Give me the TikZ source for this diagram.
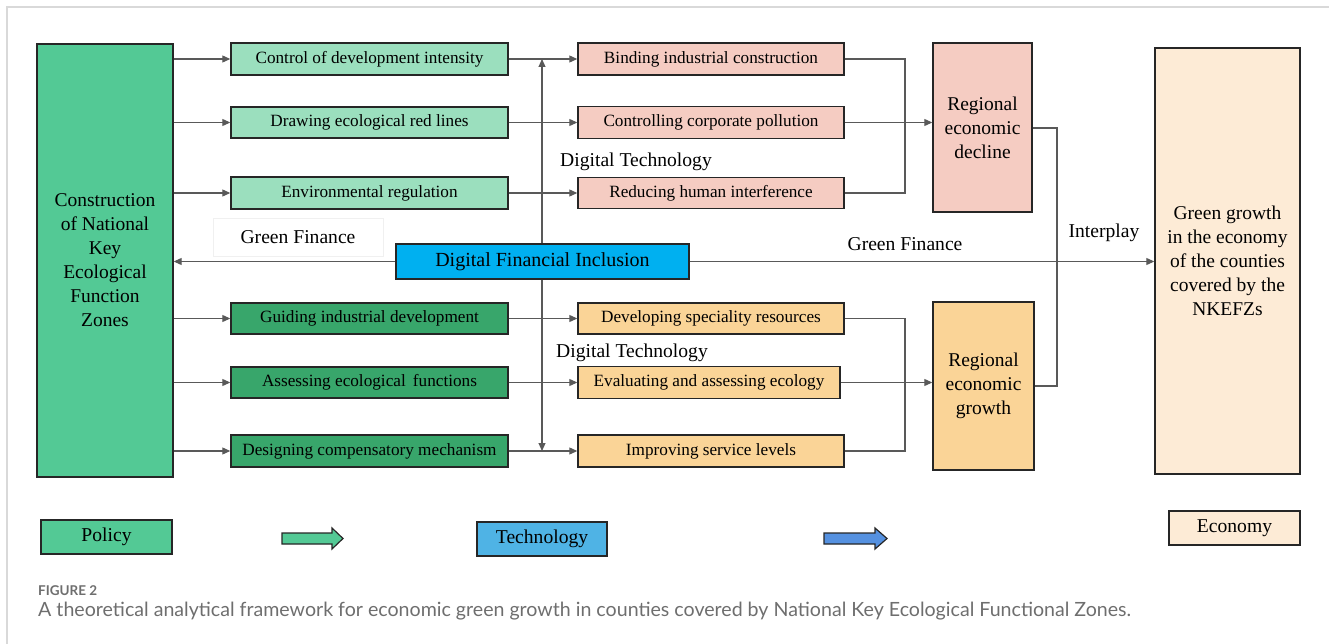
\documentclass[tikz,border=0pt]{standalone}
\usepackage{fontspec}
\setmainfont{Liberation Serif}
\newfontfamily\capfont{Lato}
\usetikzlibrary{arrows.meta}

\definecolor{zonegreen}{HTML}{53C995}
\definecolor{lightgreen}{HTML}{9BDFBE}
\definecolor{darkgreen}{HTML}{38A66B}
\definecolor{pinkfill}{HTML}{F5CCC2}
\definecolor{orangefill}{HTML}{FAD497}
\definecolor{inclusionblue}{HTML}{00B0F0}
\definecolor{techblue}{HTML}{4FB3E5}
\definecolor{arrowblue}{HTML}{5591E0}
\definecolor{creamfill}{HTML}{FDEBD6}
\definecolor{linegrey}{HTML}{595959}
\definecolor{edgegrey}{HTML}{262626}
\definecolor{framegrey}{HTML}{D9D9D9}
\definecolor{captiongrey}{HTML}{6E6E6E}

\tikzset{
  box/.style={draw=edgegrey, line width=1.4pt, inner sep=0pt, align=center,
    font=\fontsize{17.2}{20}\selectfont},
  bigbox/.style={box, font=\fontsize{19.5}{24}\selectfont},
  conn/.style={draw=linegrey, line width=1.1pt},
  arr/.style={conn, -{Triangle[length=8pt,width=7pt]}},
  dblarr/.style={conn, {Triangle[length=8pt,width=7pt]}-{Triangle[length=8pt,width=7pt]}},
  lbl/.style={font=\fontsize{19.6}{22}\selectfont, inner sep=0pt},
  lblbox/.style={draw=black!6, line width=0.6pt, fill=white, inner sep=0pt},
  legarrow/.style={draw=edgegrey, line width=1.2pt, line join=miter},
  legbox/.style={box, font=\fontsize{19.6}{22}\selectfont},
}

\begin{document}
\begin{tikzpicture}[x=1pt, y=-1pt]
\useasboundingbox (0,0) rectangle (1329,644);

% frame of the figure panel
\draw[framegrey, line width=1.5pt] (7,644) -- (7,7) -- (1329,7);

% policy side
\node[bigbox, fill=zonegreen, minimum width=136, minimum height=433] (zone) at (105,260.5)
  {Construction\\of National\\Key\\Ecological\\Function\\Zones};

\node[box, fill=lightgreen, minimum width=277, minimum height=32] (p1) at (369.5,59) {Control of development intensity};
\node[box, fill=lightgreen, minimum width=277, minimum height=31] (p2) at (369.5,122.5) {Drawing ecological red lines};
\node[box, fill=lightgreen, minimum width=277, minimum height=32] (p3) at (369.5,193) {Environmental regulation};
\node[box, fill=darkgreen, minimum width=277, minimum height=31] (p4) at (369.5,318.5) {Guiding industrial development};
\node[box, fill=darkgreen, minimum width=277, minimum height=31] (p5) at (369.5,382.5) {Assessing ecological\, functions};
\node[box, fill=darkgreen, minimum width=277, minimum height=32] (p6) at (369.5,451) {Designing compensatory mechanism};

% mechanism boxes
\node[box, fill=pinkfill, minimum width=266, minimum height=32] (m1) at (711,59) {Binding industrial construction};
\node[box, fill=pinkfill, minimum width=266, minimum height=32] (m2) at (711,122.5) {Controlling corporate pollution};
\node[box, fill=pinkfill, minimum width=266, minimum height=31] (m3) at (711,193) {Reducing human interference};
\node[box, fill=orangefill, minimum width=266, minimum height=31] (m4) at (711,318.5) {Developing speciality resources};
\node[box, fill=orangefill, minimum width=262, minimum height=32] (m5) at (709,382.5) {Evaluating and assessing ecology};
\node[box, fill=orangefill, minimum width=266, minimum height=32] (m6) at (711,451) {Improving service levels};

% regional outcomes
\node[bigbox, fill=pinkfill, minimum width=99, minimum height=169] (dec) at (982.5,127.5) {Regional\\economic\\decline};
\node[bigbox, fill=orangefill, minimum width=101, minimum height=168] (gro) at (983.5,386) {Regional\\economic\\growth};
\node[bigbox, fill=creamfill, minimum width=145, minimum height=426] (eco) at (1227.5,261)
  {Green growth\\in the economy\\of the counties\\covered by the\\NKEFZs};

% policy -> policy instruments
\foreach \i in {1,...,6} { \draw[arr] (zone.east |- p\i) -- (p\i.west); }
% instruments -> mechanisms
\foreach \i in {1,...,6} { \draw[arr] (p\i.east) -- (m\i.west |- p\i); }

% digital technology acts on both groups
\coordinate (vtop) at (542,59);
\coordinate (vbot) at (542,451);
\draw[dblarr] (vbot) -- (vtop);

% mechanisms -> regional outcomes
\coordinate (jt) at (905,59);
\coordinate (jb) at (905,451);
\draw[conn] (m1.east) -- (jt) -- (jt |- m3) -- (m3.east);
\draw[arr] (m2.east) -- (dec.west |- m2);
\draw[conn] (m4.east) -- (m4.east -| jb) -- (jb) -- (m6.east);
\draw[arr] (m5.east) -- (gro.west |- m5);

% interplay of the two regional outcomes
\coordinate (ip) at (1057,128);
\draw[conn] (dec.east |- ip) -- (ip) -- (ip |- gro) -- (gro.east);

% digital financial inclusion, both directions
\node[box, fill=inclusionblue, minimum width=293, minimum height=35,
  font=\fontsize{20}{22}\selectfont] (dfi) at (542.5,261.5) {Digital Financial Inclusion};
\draw[arr] (dfi.west) -- (zone.east |- dfi);
\draw[arr] (dfi.east) -- (eco.west |- dfi);

% labels
\node[lblbox, minimum width=170, minimum height=38] (gfl) at (298,237) {};
\node[lbl] at (gfl) {Green Finance};
\node[lblbox, minimum width=185, minimum height=36, draw=none, fill=none] (gfr) at (905,244) {};
\node[lbl] at (gfr) {Green Finance};
\node[lbl] (dt1) at (636,162) {Digital Technology};
\node[lbl] (dt2) at (632,353) {Digital Technology};
\node[lbl] (inter) at (1104,233) {Interplay};

% legend
\node[legbox, fill=zonegreen, minimum width=131, minimum height=34] (legpol) at (106.5,537) {Policy};
\draw[legarrow, fill=zonegreen] (282,533) -- (332,533) -- (332,528) -- (343,538.5)
  -- (332,549) -- (332,544) -- (282,544) -- cycle;
\node[legbox, fill=techblue, minimum width=130, minimum height=34] (legtech) at (542,539) {Technology};
\draw[legarrow, fill=arrowblue] (824,533) -- (875,533) -- (875,528) -- (887,538.5)
  -- (875,549) -- (875,544) -- (824,544) -- cycle;
\node[legbox, fill=creamfill, minimum width=131, minimum height=34] (legeco) at (1234.5,528) {Economy};

% caption
\node[anchor=west, inner sep=0pt, text=captiongrey, font=\capfont\bfseries\fontsize{13.5}{15}\selectfont]
  (figno) at (38,591) {FIGURE 2};
\node[anchor=west, inner sep=0pt, text=captiongrey, font=\capfont\fontsize{19.6}{22}\selectfont]
  (cap) at (38,611) {A theoretical analytical framework for economic green growth in counties covered by National Key Ecological Functional Zones.};
\end{tikzpicture}
\end{document}
